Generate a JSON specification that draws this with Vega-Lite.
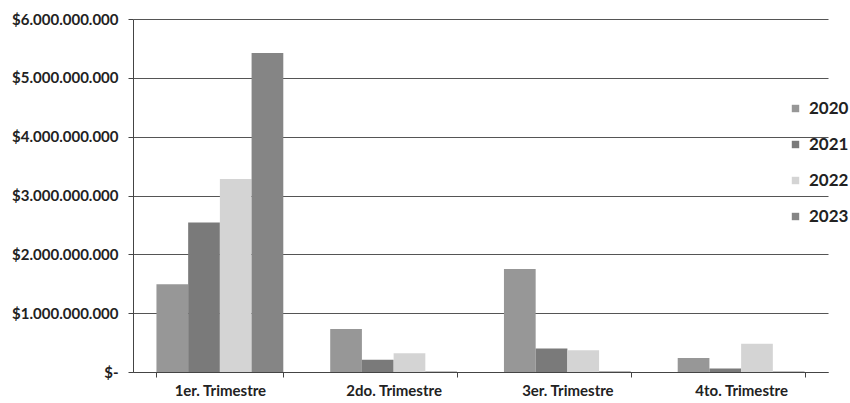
{
  "$schema": "https://vega.github.io/schema/vega-lite/v6.json",
  "width": 695,
  "height": 353,
  "autosize": {"type": "none"},
  "padding": {"left": 133, "top": 19, "right": 22, "bottom": 31},
  "background": "white",
  "config": {
    "locale": {"number": {"decimal": ",", "thousands": ".", "grouping": [3], "currency": ["$", ""]}},
    "view": {"stroke": null},
    "font": "Lato"
  },
  "data": {
    "values": [
      {"trimestre": "1er. Trimestre", "anio": "2020", "valor": 1490000000},
      {"trimestre": "1er. Trimestre", "anio": "2021", "valor": 2540000000},
      {"trimestre": "1er. Trimestre", "anio": "2022", "valor": 3280000000},
      {"trimestre": "1er. Trimestre", "anio": "2023", "valor": 5420000000},
      {"trimestre": "2do. Trimestre", "anio": "2020", "valor": 730000000},
      {"trimestre": "2do. Trimestre", "anio": "2021", "valor": 210000000},
      {"trimestre": "2do. Trimestre", "anio": "2022", "valor": 320000000},
      {"trimestre": "2do. Trimestre", "anio": "2023", "valor": 10000000},
      {"trimestre": "3er. Trimestre", "anio": "2020", "valor": 1750000000},
      {"trimestre": "3er. Trimestre", "anio": "2021", "valor": 400000000},
      {"trimestre": "3er. Trimestre", "anio": "2022", "valor": 370000000},
      {"trimestre": "3er. Trimestre", "anio": "2023", "valor": 10000000},
      {"trimestre": "4to. Trimestre", "anio": "2020", "valor": 240000000},
      {"trimestre": "4to. Trimestre", "anio": "2021", "valor": 60000000},
      {"trimestre": "4to. Trimestre", "anio": "2022", "valor": 480000000},
      {"trimestre": "4to. Trimestre", "anio": "2023", "valor": 10000000}
    ]
  },
  "mark": {"type": "bar"},
  "encoding": {
    "x": {
      "field": "trimestre",
      "type": "nominal",
      "sort": null,
      "scale": {"paddingInner": 0.27, "paddingOuter": 0.135},
      "axis": {
        "title": null,
        "labelAngle": 0,
        "labelFont": "Lato",
        "labelFontWeight": "bold",
        "labelFontSize": 15,
        "labelColor": "#222",
        "labelPadding": 6,
        "tickBand": "extent",
        "tickSize": 5,
        "tickColor": "#444",
        "domainColor": "#444",
        "grid": false
      }
    },
    "xOffset": {"field": "anio", "type": "nominal", "sort": null},
    "y": {
      "field": "valor",
      "type": "quantitative",
      "scale": {"domain": [0, 6000000000], "nice": false},
      "axis": {
        "title": null,
        "values": [0, 1000000000, 2000000000, 3000000000, 4000000000, 5000000000, 6000000000],
        "format": "$,d",
        "labelExpr": "datum.value == 0 ? '$-' : datum.label",
        "labelFont": "Lato",
        "labelFontWeight": "bold",
        "labelFontSize": 15,
        "labelColor": "#222",
        "labelPadding": 10,
        "tickSize": 5,
        "tickColor": "#444",
        "domainColor": "#444",
        "gridColor": "#555",
        "gridWidth": 1
      }
    },
    "color": {
      "field": "anio",
      "type": "nominal",
      "scale": {"domain": ["2020", "2021", "2022", "2023"], "range": ["#979797", "#7a7a7a", "#d4d4d4", "#858585"]},
      "legend": {
        "title": null,
        "orient": "none",
        "legendX": 654,
        "legendY": 81,
        "symbolType": "square",
        "symbolSize": 55,
        "labelFont": "Lato",
        "labelFontWeight": "bold",
        "labelFontSize": 17,
        "labelColor": "#222",
        "labelOffset": 5,
        "rowPadding": 18
      }
    }
  }
}
